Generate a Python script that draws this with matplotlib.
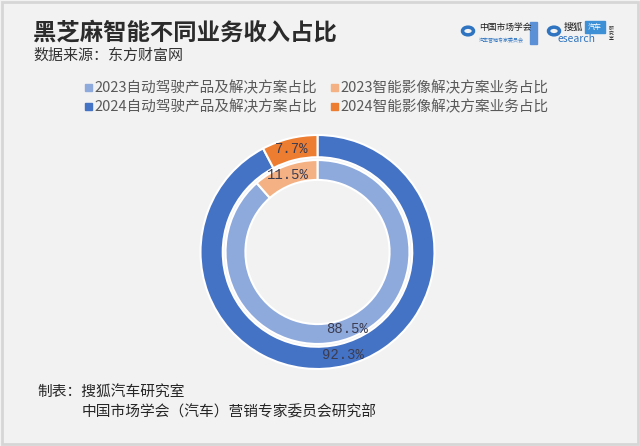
import matplotlib.pyplot as plt
from matplotlib.patches import Rectangle

plt.rcParams["font.family"] = ["Noto Sans CJK SC", "DejaVu Sans"]

# data
series_labels = [
    "2023自动驾驶产品及解决方案占比",
    "2023智能影像解决方案业务占比",
    "2024自动驾驶产品及解决方案占比",
    "2024智能影像解决方案业务占比",
]
share_2023 = [88.5, 11.5]
share_2024 = [92.3, 7.7]

colors_2023 = ["#8eaadc", "#f4b183"]
colors_2024 = ["#4472c4", "#ed7d31"]

W, H = 640, 446
fig = plt.figure(figsize=(W / 100, H / 100), dpi=100)
fig.patch.set_facecolor("#f2f2f2")
fig.patches.append(Rectangle((0.003, 0.004), 0.994, 0.992, transform=fig.transFigure,
                             fill=False, edgecolor="#d6d6d6", linewidth=2))

# pie axes: centre (317.5, 252) px, outer radius ~117 px
cx, cy, r = 317.5, 252, 117
half = 125
ax = fig.add_axes([(cx - half) / W, (H - cy - half) / H, 2 * half / W, 2 * half / H])

pct_font = dict(family="Liberation Mono", size=10, color="#3c3c50")

ax.pie(share_2024, radius=1.0, colors=colors_2024, startangle=90, counterclock=False,
       wedgeprops=dict(width=0.19, edgecolor="white", linewidth=1.5),
       autopct="%.1f%%", pctdistance=0.91, textprops=pct_font)
ax.pie(share_2023, radius=0.786, colors=colors_2023, startangle=90, counterclock=False,
       wedgeprops=dict(width=0.17, edgecolor="white", linewidth=1.5),
       autopct="%.1f%%", pctdistance=0.9, textprops=pct_font)
# pie() resets the limits, so set them afterwards
ax.set_xlim(-half / r, half / r)
ax.set_ylim(-half / r, half / r)
ax.axis("off")

# title and source
fig.text(33 / W, 1 - 32 / H, "黑芝麻智能不同业务收入占比", fontsize=16.8, color="#2b2b2b",
         weight="bold", va="center", ha="left")
fig.text(33 / W, 1 - 56 / H, "数据来源：东方财富网", fontsize=10.8, color="#333333",
         va="center", ha="left")

# legend
leg_pos = [(88, 88), (334, 88), (88, 107), (334, 107)]
leg_colors = [colors_2023[0], colors_2023[1], colors_2024[0], colors_2024[1]]
for (lx, ly), c, lab in zip(leg_pos, leg_colors, series_labels):
    fig.patches.append(Rectangle(((lx - 3) / W, 1 - (ly + 3) / H), 7 / W, 7 / H,
                                 transform=fig.transFigure, color=c))
    fig.text((lx + 6) / W, 1 - ly / H, lab, fontsize=10.5, color="#595959",
             va="center", ha="left")

# logos (approximated with text and simple shapes)
for x0 in [468, 554]:
    fig.patches.append(plt.Circle((x0 / W, 1 - 31 / H), 5.5 / W, transform=fig.transFigure,
                                  fill=False, edgecolor="#2e74c0", linewidth=2.5))
fig.text(479 / W, 1 - 27 / H, "中国市场学会", fontsize=6.3, color="#1a1a1a", va="center")
fig.text(479 / W, 1 - 41 / H, "汽车营销专家委员会", fontsize=3.6, color="#2e74c0", va="center")
fig.patches.append(Rectangle((530 / W, 1 - 44 / H), 7 / W, 22 / H,
                             transform=fig.transFigure, color="#5b8fd6"))
fig.text(564 / W, 1 - 27 / H, "搜狐", fontsize=7, color="#1a1a1a", va="center")
fig.patches.append(Rectangle((585 / W, 1 - 33 / H), 20 / W, 12 / H,
                             transform=fig.transFigure, color="#3d8fd6"))
fig.text(595 / W, 1 - 27 / H, "汽车", fontsize=5, color="white", va="center", ha="center")
fig.text(557 / W, 1 - 39 / H, "esearch", fontsize=7.5, color="#2e74c0", va="center")
fig.text(611 / W, 1 - 33 / H, "研\n究\n室", fontsize=3.5, color="#333333", va="center",
         ha="center", linespacing=1.0)

# footer
fig.text(37 / W, 1 - 393 / H, "制表：搜狐汽车研究室", fontsize=10.6, color="#262626",
         va="center", ha="left")
fig.text(82 / W, 1 - 412 / H, "中国市场学会（汽车）营销专家委员会研究部", fontsize=10.6,
         color="#262626", va="center", ha="left")

fig.savefig("out.png", dpi=100, facecolor=fig.get_facecolor())
